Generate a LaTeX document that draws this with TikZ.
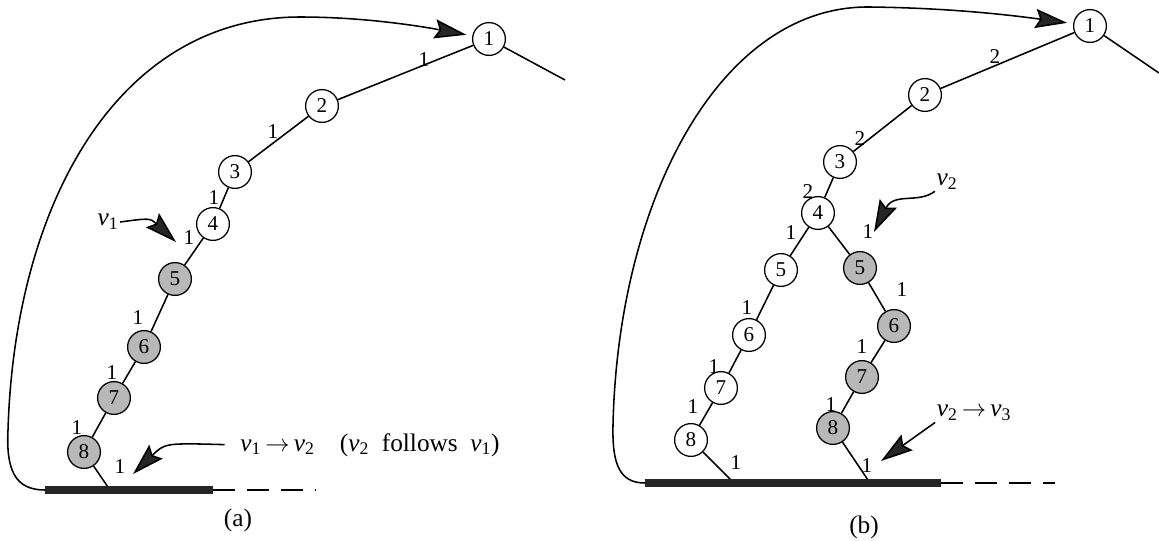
\documentclass[tikz,border=0pt]{standalone}
\usepackage{fontspec}
\setmainfont{Liberation Serif}
\usetikzlibrary{arrows.meta}

\newcommand\vsub[1]{\textit{v}\textsubscript{#1}}

\begin{document}
\begin{tikzpicture}[
  x=0.25mm,
  y=-0.25mm,
  vtx/.style={draw, circle, minimum size=8.2mm, inner sep=0pt, line width=0.9pt, font=\fontsize{15}{15}\selectfont},
  done/.style={vtx, fill=black!28},
  wt/.style={font=\fontsize{15}{15}\selectfont, inner sep=0pt},
  big/.style={font=\fontsize{18}{20}\selectfont, inner sep=1pt},
  edge/.style={line width=1.1pt},
  hook/.style={line width=1.1pt, -{Stealth[length=8mm, width=4.8mm, inset=1.2mm, fill=black!85]}},
  stack/.style={line width=2.2mm, black!85},
  tail/.style={line width=1.2pt, dash pattern=on 5.5mm off 3mm}
]
  \useasboundingbox (0,0) rectangle (1159,540);

  % (a) one path
  \node[vtx] (a1) at (489,39) {1};
  \node[vtx] (a2) at (322,106) {2};
  \node[vtx] (a3) at (235,172) {3};
  \node[vtx] (a4) at (213,224) {4};
  \node[done] (a5) at (175,279) {5};
  \node[done] (a6) at (144,347) {6};
  \node[done] (a7) at (114,398) {7};
  \node[done] (a8) at (84,452) {8};

  \coordinate (aL) at (45,490);
  \coordinate (aR) at (213,490);
  \coordinate (aE) at (316,490);
  \coordinate (aT) at (110,490);
  \coordinate (aout) at (565,80);

  \draw[edge] (a1) -- (aout);
  \draw[edge] (a1) -- (a2);
  \draw[edge] (a2) -- (a3);
  \draw[edge] (a3) -- (a4);
  \draw[edge] (a4) -- (a5);
  \draw[edge] (a5) -- (a6);
  \draw[edge] (a6) -- (a7);
  \draw[edge] (a7) -- (a8);
  \draw[edge] (a8) -- (aT);

  \node[wt] (la12) at (424,60) {1};
  \node[wt] (la23) at (273,132) {1};
  \node[wt] (la34) at (214,198) {1};
  \node[wt] (la45) at (189,238) {1};
  \node[wt] (la56) at (138,318) {1};
  \node[wt] (la67) at (112,373) {1};
  \node[wt] (la78) at (77,428) {1};
  \node[wt] (la8b) at (120,467) {1};

  \draw[stack] (aL) -- (aR);
  \draw[tail] (aR) -- (aE);

  \draw[hook, shorten >=1.5mm] (aL) .. controls (15,490) and (6,470) .. (8,430)
    .. controls (15,200) and (120,17) .. (300,17)
    .. controls (370,17) and (430,28) .. (a1);

  \node[big] (v1) at (108,222) {\vsub{1}};
  \coordinate (v1tip) at (176,242);
  \draw[hook] (v1.east) .. controls (150,218) .. (v1tip);

  \node[big] (fa) at (370,445) {\vsub{1}\,$\rightarrow$\,\vsub{2}\quad(\vsub{2}~ follows~ \vsub{1})};
  \coordinate (atip) at (133,474);
  \draw[hook, shorten <=3.5mm] (fa.west) .. controls (165,443) .. (atip);

  \node[big] (capa) at (238,520) {(a)};

  % (b) two branches
  \node[vtx] (b1) at (1090,26) {1};
  \node[vtx] (b2) at (925,95) {2};
  \node[vtx] (b3) at (840,162) {3};
  \node[vtx] (b4) at (818,213) {4};
  \node[vtx] (b5) at (781,270) {5};
  \node[vtx] (b6) at (749,335) {6};
  \node[vtx] (b7) at (721,388) {7};
  \node[vtx] (b8) at (691,440) {8};
  \node[done] (c5) at (860,268) {5};
  \node[done] (c6) at (894,326) {6};
  \node[done] (c7) at (862,377) {7};
  \node[done] (c8) at (833,428) {8};

  \coordinate (bL) at (645,483);
  \coordinate (bR) at (941,483);
  \coordinate (bE) at (1055,483);
  \coordinate (bT) at (734,483);
  \coordinate (cT) at (870,483);
  \coordinate (bout) at (1159,73);

  \draw[edge] (b1) -- (bout);
  \draw[edge] (b1) -- (b2);
  \draw[edge] (b2) -- (b3);
  \draw[edge] (b3) -- (b4);
  \draw[edge] (b4) -- (b5);
  \draw[edge] (b5) -- (b6);
  \draw[edge] (b6) -- (b7);
  \draw[edge] (b7) -- (b8);
  \draw[edge] (b8) -- (bT);
  \draw[edge] (b4) -- (c5);
  \draw[edge] (c5) -- (c6);
  \draw[edge] (c6) -- (c7);
  \draw[edge] (c7) -- (c8);
  \draw[edge] (c8) -- (cT);

  \node[wt] (lb12) at (995,57) {2};
  \node[wt] (lb23) at (860,139) {2};
  \node[wt] (lb34) at (808,192) {2};
  \node[wt] (lb45) at (791,233) {1};
  \node[wt] (lb56) at (747,308) {1};
  \node[wt] (lb67) at (714,367) {1};
  \node[wt] (lb78) at (693,407) {1};
  \node[wt] (lb8b) at (736,463) {1};
  \node[wt] (lc45) at (868,232) {1};
  \node[wt] (lc56) at (902,290) {1};
  \node[wt] (lc67) at (862,347) {1};
  \node[wt] (lc78) at (831,405) {1};
  \node[wt] (lc8b) at (867,466) {1};

  \draw[stack] (bL) -- (bR);
  \draw[tail] (bR) -- (bE);

  \draw[hook, shorten >=1.5mm] (bL) .. controls (620,483) and (612,465) .. (613,425)
    .. controls (618,200) and (720,5) .. (870,7)
    .. controls (950,8) and (1010,15) .. (b1);

  \node[big] (v2) at (947,182) {\vsub{2}};
  \coordinate (v2tip) at (874,232);
  \draw[hook] (v2.south west) .. controls (918,204) and (894,192) .. (v2tip);

  \node[big] (fb) at (974,413) {\vsub{2}\,$\rightarrow$\,\vsub{3}};
  \coordinate (btip) at (881,461);
  \draw[hook] (fb.south west) -- (btip);

  \node[big] (capb) at (864,527) {(b)};
\end{tikzpicture}
\end{document}
